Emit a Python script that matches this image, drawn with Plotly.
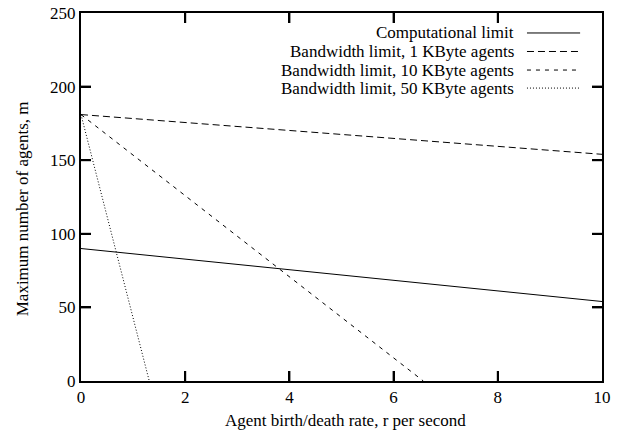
import plotly.graph_objects as go

# Data
series_names = [
    "Computational limit",
    "Bandwidth limit, 1 KByte agents",
    "Bandwidth limit, 10 KByte agents",
    "Bandwidth limit, 50 KByte agents",
]
comp_x = [0, 10]
comp_y = [90, 54]
bw1_x = [0, 10]
bw1_y = [181, 154]
bw10_x = [0, 6.57]
bw10_y = [181, 0]
bw50_x = [0, 1.31]
bw50_y = [181, 0]

x_ticks = [0, 2, 4, 6, 8, 10]
y_ticks = [0, 50, 100, 150, 200, 250]
x_title = "Agent birth/death rate, r per second"
y_title = "Maximum number of agents, m"

dashes = ["solid", "7px,4px", "4px,5px", "1px,2px"]
xs = [comp_x, bw1_x, bw10_x, bw50_x]
ys = [comp_y, bw1_y, bw10_y, bw50_y]

FONT = "Liberation Serif"
FS = 17
fig = go.Figure()
for name, x, y, d in zip(series_names, xs, ys, dashes):
    fig.add_trace(go.Scatter(x=x, y=y, mode="lines", name=name,
                             line=dict(color="black", width=1, dash=d),
                             showlegend=False))

# Manual legend: right-aligned text with line sample on the right
row_y = [0.9457, 0.8954, 0.845, 0.796]
for name, d, yy in zip(series_names, dashes, row_y):
    fig.add_annotation(x=0.835, y=yy, xref="paper", yref="paper", text=name,
                       showarrow=False, xanchor="right", yanchor="middle",
                       font=dict(family=FONT, size=FS, color="black"))
    fig.add_shape(type="line", xref="paper", yref="paper",
                  x0=0.856, x1=0.958, y0=yy, y1=yy,
                  line=dict(color="black", width=1, dash=d))

# Inside tick marks on all four sides (gnuplot style), placed at tick values
TKX = 10 / 368
TKY = 10 / 521
for t in x_ticks[1:-1]:
    for y0, y1 in ((0, TKX), (1, 1 - TKX)):
        fig.add_shape(type="line", xref="x", yref="paper", x0=t, x1=t, y0=y0, y1=y1,
                      line=dict(color="black", width=2))
for t in y_ticks[1:-1]:
    for x0, x1 in ((0, TKY), (1, 1 - TKY)):
        fig.add_shape(type="line", xref="paper", yref="y", x0=x0, x1=x1, y0=t, y1=t,
                      line=dict(color="black", width=2))

# Axis titles
fig.add_annotation(x=0.507, y=-0.106, xref="paper", yref="paper", text=x_title,
                   showarrow=False, xanchor="center", yanchor="middle",
                   font=dict(family=FONT, size=FS, color="black"))
fig.add_annotation(x=-0.113, y=0.467, xref="paper", yref="paper", text=y_title,
                   showarrow=False, xanchor="center", yanchor="middle", textangle=-90,
                   font=dict(family=FONT, size=FS, color="black"))

axis_common = dict(showline=True, linewidth=2, linecolor="black", mirror="ticks",
                   ticks="inside", ticklen=10, tickwidth=2, tickcolor="black",
                   showgrid=False, zeroline=False,
                   tickfont=dict(family=FONT, size=FS, color="black"))
fig.update_xaxes(range=[0, 10], tick0=x_ticks[0], dtick=x_ticks[1] - x_ticks[0],
                 **axis_common)
fig.update_yaxes(range=[0, 250], tick0=y_ticks[0], dtick=y_ticks[1] - y_ticks[0],
                 **axis_common)
fig.update_layout(width=619, height=435, plot_bgcolor="white", paper_bgcolor="white",
                  margin=dict(l=81, r=17, t=13, b=54, autoexpand=False),
                  font=dict(family=FONT))
fig.write_html("out.html", config={"displayModeBar": False},
               post_script="document.body.style.margin='0';")
